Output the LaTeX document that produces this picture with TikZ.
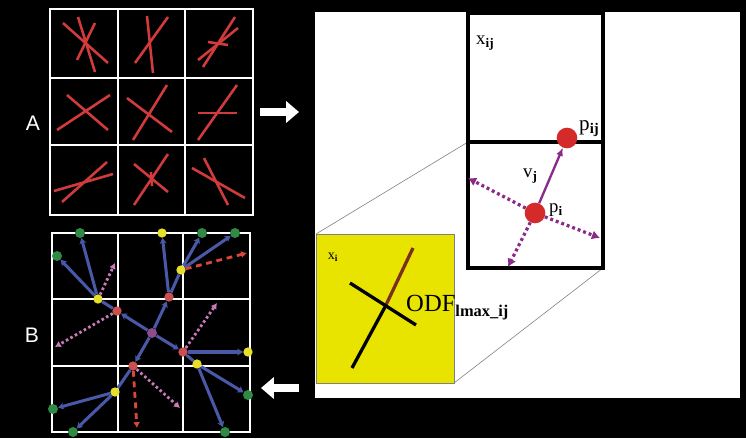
\documentclass[tikz,border=0pt]{standalone}
\usepackage{fontspec}
\setmainfont{Liberation Serif}
\newfontfamily\labelfont{Liberation Sans}
\usepackage{xcolor}
\usepackage{tikz}
\usetikzlibrary{arrows.meta,positioning,shapes.geometric}
\definecolor{TrBlue}{HTML}{4A58A8}
\definecolor{TrGreen}{HTML}{2E8A44}
\definecolor{TrYellow}{HTML}{E6E02A}
\definecolor{TrRed}{HTML}{C9504F}
\definecolor{TrPurple}{HTML}{8E4C8C}
\definecolor{TrPink}{HTML}{C77BB8}
\definecolor{TrJump}{HTML}{D9473C}
\definecolor{FibRed}{HTML}{D23B3B}
\definecolor{VoxYellow}{HTML}{E8E400}
\definecolor{VecPurple}{HTML}{8A2B8A}
\definecolor{SpotRed}{HTML}{D42A2A}
\definecolor{OdfBrown}{HTML}{7A3020}

\begin{document}
\begin{tikzpicture}[
  x=0.03cm,y=-0.03cm,
  gline/.style={draw=white,line width=2.5pt},
  fibre/.style={draw=FibRed,line width=2.2pt},
  dot/.style={circle,inner sep=0pt,draw=none},
  gdot/.style={dot,fill=TrGreen,minimum size=3mm},
  ydot/.style={dot,fill=TrYellow,minimum size=2.8mm},
  rdot/.style={dot,fill=TrRed,minimum size=2.8mm},
  pdot/.style={dot,fill=TrPurple,minimum size=3mm},
  tree/.style={draw=TrBlue,line width=2.6pt,-{Stealth[length=5pt,width=6pt]}},
  link/.style={draw=TrBlue,line width=2.6pt},
  probe/.style={draw=TrPink,line width=2.4pt,dash pattern=on 2.2pt off 2.2pt,-{Latex[length=5pt,width=6pt]}},
  jump/.style={draw=TrJump,line width=2.4pt,dash pattern=on 5pt off 4pt,-{Latex[length=5pt,width=6pt]}},
  bigarrow/.style={draw=white,line width=7pt,-{Triangle[length=11pt,width=18pt]}},
  spot/.style={circle,fill=SpotRed,inner sep=0pt,minimum size=6.2mm},
  vec/.style={draw=VecPurple,line width=2pt,-{Latex[length=7pt,width=6pt]}},
  vecdot/.style={draw=VecPurple,line width=2.8pt,dash pattern=on 2.5pt off 2.5pt,-{Latex[length=7pt,width=8pt]}},
  lab/.style={font=\fontsize{16}{16}\selectfont,inner sep=0pt}
]
  \fill[black] (0,0) rectangle (746,438);

  \node[font=\labelfont\fontsize{18}{18}\selectfont,text=white] (labA) at (33,123) {A};
  \node[font=\labelfont\fontsize{18}{18}\selectfont,text=white] (labB) at (32,335) {B};

  \draw[gline] (50,9) rectangle (253,215);
  \draw[gline] (118,9) -- (118,215) (185,9) -- (185,215);
  \draw[gline] (50,78) -- (253,78) (50,145) -- (253,145);

  \draw[fibre] (63,23) -- (108,63);
  \draw[fibre] (78,17) -- (95,72);
  \draw[fibre] (95,23) -- (77,60);
  \draw[fibre] (147,16) -- (153,73);
  \draw[fibre] (168,17) -- (135,63);
  \draw[fibre] (235,17) -- (203,67);
  \draw[fibre] (238,28) -- (198,60);
  \draw[fibre] (208,42) -- (228,45);
  \draw[fibre] (67,95) -- (108,130);
  \draw[fibre] (110,95) -- (57,130);
  \draw[fibre] (167,85) -- (133,140);
  \draw[fibre] (127,98) -- (172,132);
  \draw[fibre] (237,85) -- (198,140);
  \draw[fibre] (198,113) -- (237,113);
  \draw[fibre] (107,162) -- (62,202);
  \draw[fibre] (113,174) -- (54,191);
  \draw[fibre] (168,154) -- (134,205);
  \draw[fibre] (134,164) -- (168,192);
  \draw[fibre] (151,172) -- (152,186);
  \draw[fibre] (204,158) -- (228,205);
  \draw[fibre] (192,168) -- (245,198);

  \draw[gline] (52,233) rectangle (250,432);
  \draw[gline] (118,233) -- (118,432) (183,233) -- (183,432);
  \draw[gline] (52,299) -- (250,299) (52,366) -- (250,366);

  \node[gdot] (g1) at (80,233) {};
  \node[gdot] (g2) at (57,256) {};
  \node[ydot] (y1) at (162,233) {};
  \node[gdot] (g3) at (202,233) {};
  \node[gdot] (g4) at (235,233) {};
  \node[ydot] (y2) at (181,270) {};
  \node[ydot] (y3) at (98,299) {};
  \node[rdot] (rA) at (117,311) {};
  \node[rdot] (rB) at (169,297) {};
  \node[pdot] (hub) at (152,333) {};
  \node[rdot] (rC) at (183,352) {};
  \node[ydot] (y4) at (248,352) {};
  \node[ydot] (y5) at (197,364) {};
  \node[rdot] (rD) at (133,366) {};
  \node[ydot] (y6) at (115,392) {};
  \node[gdot] (g5) at (53,409) {};
  \node[gdot] (g6) at (73,432) {};
  \node[gdot] (g7) at (248,395) {};
  \node[gdot] (g8) at (225,432) {};
  \coordinate (pk1) at (115,263);
  \coordinate (pk2) at (55,347);
  \coordinate (pk3) at (217,303);
  \coordinate (pk4) at (180,408);
  \coordinate (dj1) at (247,253);
  \coordinate (dj2) at (137,428);

  \draw[tree] (hub) -- (rA);
  \draw[tree] (hub) -- (rB);
  \draw[tree] (hub) -- (rC);
  \draw[tree] (hub) -- (rD);
  \draw[link] (rA) -- (y3);
  \draw[link] (rB) -- (y2);
  \draw[tree] (rB) -- (y1);
  \draw[tree] (rC) -- (y4);
  \draw[link] (rC) -- (y5);
  \draw[link] (rD) -- (y6);
  \draw[tree] (y3) -- (g1);
  \draw[tree] (y3) -- (g2);
  \draw[tree] (y2) -- (g3);
  \draw[tree] (y2) -- (g4);
  \draw[tree] (y5) -- (g7);
  \draw[tree] (y5) -- (g8);
  \draw[tree] (y6) -- (g5);
  \draw[tree] (y6) -- (g6);
  \draw[probe] (y3) -- (pk1);
  \draw[probe] (rA) -- (pk2);
  \draw[probe] (rC) -- (pk3);
  \draw[probe] (rD) -- (pk4);
  \draw[jump] (y2) -- (dj1);
  \draw[jump] (rD) -- (dj2);

  \coordinate (arA0) at (260,112);
  \coordinate (arA1) at (299,112);
  \coordinate (arB0) at (299,388);
  \coordinate (arB1) at (261,388);
  \draw[bigarrow] (arA0) -- (arA1);
  \draw[bigarrow] (arB0) -- (arB1);

  \fill[white] (315,12) rectangle (740,398);
  \draw[gray,line width=0.5pt] (316,234) -- (468,142);
  \draw[gray,line width=0.5pt] (454,383) -- (603,268);
  \draw[black,line width=3pt] (468,13) rectangle (603,268);
  \draw[black,line width=3pt] (468,142) -- (603,142);
  \filldraw[fill=VoxYellow,draw=gray,line width=0.5pt] (316,234) rectangle (454,383);

  \draw[black,line width=2.8pt] (352,368) -- (385,307);
  \draw[OdfBrown,line width=2.8pt] (385,307) -- (413,248);
  \draw[black,line width=2.8pt] (350,283) -- (416,325);
  \node[font=\fontsize{12}{12}\selectfont,inner sep=0pt] (xi) at (333,257) {x\textsubscript{\textbf{i}}};
  \node[anchor=base west,inner sep=0pt] (odf) at (406,311)
    {{\fontsize{21}{21}\selectfont ODF}{\fontsize{14}{14}\selectfont\bfseries\raisebox{-5pt}{lmax\_ij}}};

  \node[lab,anchor=base west] (xij) at (476,44) {x\textsubscript{\textbf{ij}}};
  \node[spot] (pij) at (567,138) {};
  \node[spot] (pi) at (535,213) {};
  \node[lab,anchor=base west,font=\fontsize{18}{18}\selectfont] (pijl) at (579,130) {p\textsubscript{\textbf{ij}}};
  \node[lab,anchor=base west] (vj) at (523,177) {v\textsubscript{\textbf{j}}};
  \node[lab,anchor=base west] (pil) at (549,212) {p\textsubscript{\textbf{i}}};
  \coordinate (vp1) at (468,178);
  \coordinate (vp2) at (600,238);
  \coordinate (vp3) at (508,267);
  \draw[vec] (pi) -- (pij);
  \draw[vecdot] (pi) -- (vp1);
  \draw[vecdot] (pi) -- (vp2);
  \draw[vecdot] (pi) -- (vp3);
\end{tikzpicture}
\end{document}
